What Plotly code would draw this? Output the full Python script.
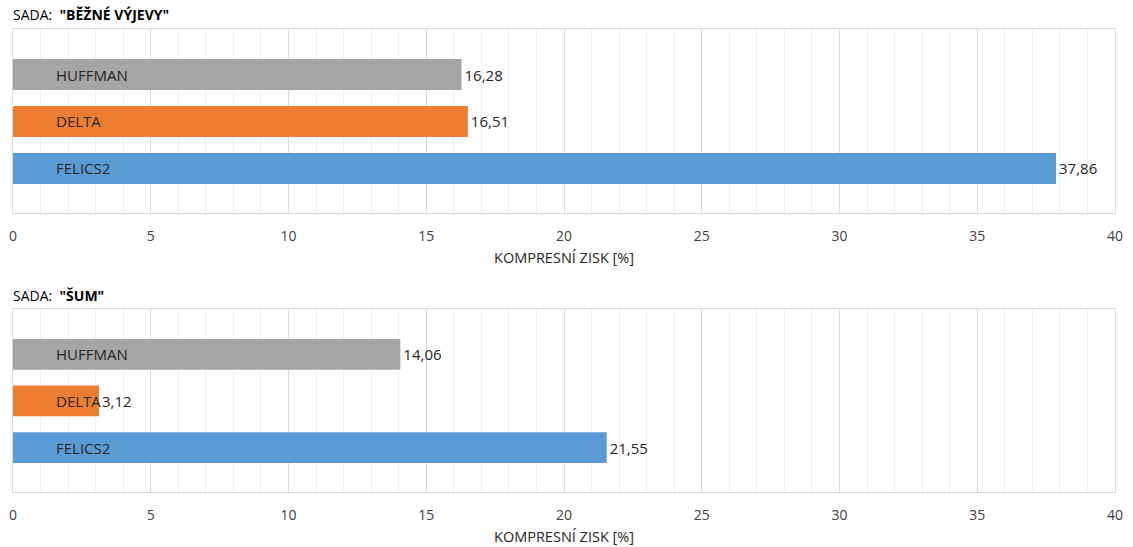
import plotly.graph_objects as go

categories = ["HUFFMAN", "DELTA", "FELICS2"]
values_bezne = [16.28, 16.51, 37.86]
values_sum = [14.06, 3.12, 21.55]
colors = ["#A5A5A5", "#ED7D31", "#5B9BD5"]
panel_titles = ['SADA:  <b>"BĚŽNÉ VÝJEVY"</b>', 'SADA:  <b>"ŠUM"</b>']
x_ticks = [0, 5, 10, 15, 20, 25, 30, 35, 40]
x_title = "KOMPRESNÍ ZISK [%]"

W, H = 1133, 547
FONT = "Open Sans"
# pixel layout of panels (top, bottom)
panels = [(29, 213), (309, 492)]
left_px, right_px = 13, 1115

fig = go.Figure()
pos = list(range(len(categories)))
annotations = []
for i, (vals, (top, bot)) in enumerate(zip([values_bezne, values_sum], panels)):
    xa = "x" if i == 0 else "x2"
    ya = "y" if i == 0 else "y2"
    fig.add_trace(go.Bar(
        x=vals, y=pos, orientation="h",
        marker=dict(color=colors, line=dict(width=0)),
        width=0.66,
        text=vals, texttemplate="%{x:.2f}", textposition="outside",
        textfont=dict(family=FONT, size=15, color="#262626"),
        cliponaxis=False,
        xaxis=xa, yaxis=ya, showlegend=False, hoverinfo="skip",
    ))
    for j, c in enumerate(categories):
        annotations.append(dict(
            x=1.5, y=pos[j], xref=xa, yref=ya, text=c, showarrow=False,
            xanchor="left", yanchor="middle",
            font=dict(family=FONT, size=15, color="#262626"),
        ))
    # panel title
    annotations.append(dict(
        x=(left_px - 2) / W, y=1 - (top - 14) / H, xref="paper", yref="paper",
        text=panel_titles[i], showarrow=False, xanchor="left", yanchor="middle",
        font=dict(family=FONT, size=14, color="#000000"),
    ))
    # axis title
    annotations.append(dict(
        x=(left_px + right_px) / 2 / W, y=1 - (bot + 44) / H, xref="paper", yref="paper",
        text=x_title, showarrow=False, xanchor="center", yanchor="middle",
        borderpad=0,
        font=dict(family=FONT, size=14.5, color="#262626"),
    ))

axis_common = dict(
    range=[0, 40], tickvals=x_ticks, ticktext=[str(t) for t in x_ticks],
    showgrid=True, gridcolor="#D9D9D9", gridwidth=1,
    minor=dict(dtick=1, showgrid=True, gridcolor="#F0F0F0", gridwidth=1),
    showline=True, linecolor="#D9D9D9", linewidth=1, mirror=True,
    zeroline=False, ticks="", ticklabelstandoff=10, automargin=False,
    tickfont=dict(family=FONT, size=14, color="#404040"),
    fixedrange=True,
)
yaxis_common = dict(
    range=[2.95, -0.97], showticklabels=False, showgrid=False, zeroline=False,
    showline=True, linecolor="#D9D9D9", linewidth=1, mirror=True, ticks="",
    automargin=False, fixedrange=True,
)

xd = [left_px / W, right_px / W]
fig.update_layout(
    width=W, height=H,
    margin=dict(l=0, r=0, t=0, b=0, autoexpand=False),
    paper_bgcolor="white", plot_bgcolor="white",
    separators=", ",
    bargap=0.3,
    xaxis=dict(domain=xd, anchor="y", **axis_common),
    yaxis=dict(domain=[1 - panels[0][1] / H, 1 - panels[0][0] / H], anchor="x", **yaxis_common),
    xaxis2=dict(domain=xd, anchor="y2", **axis_common),
    yaxis2=dict(domain=[1 - panels[1][1] / H, 1 - panels[1][0] / H], anchor="x2", **yaxis_common),
    annotations=annotations,
    font=dict(family=FONT),
)

fig.write_html("out.html")
